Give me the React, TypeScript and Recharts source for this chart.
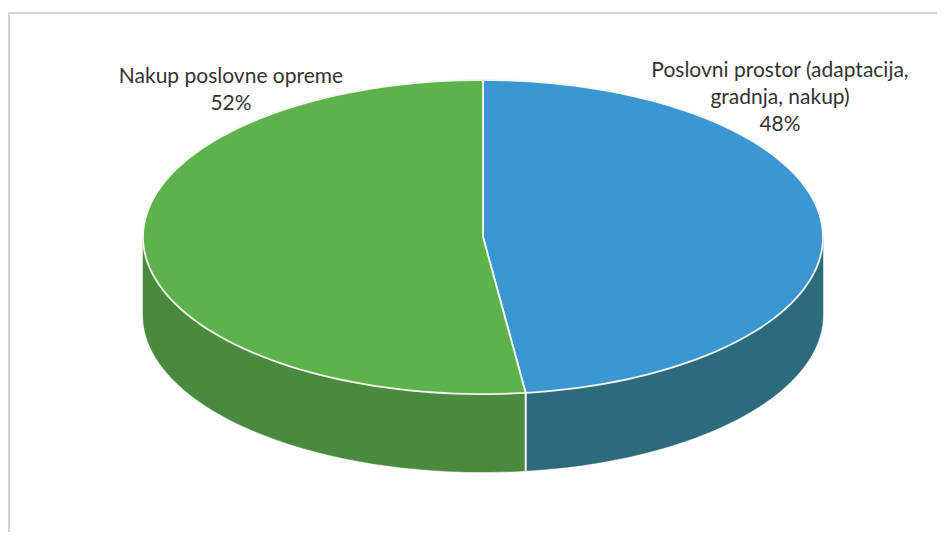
import { PieChart, Pie } from "recharts";

// slices, clockwise from 12 o'clock
const categories = ["Poslovni prostor (adaptacija, gradnja, nakup)", "Nakup poslovne opreme"];
const shares = [48, 52];
const labelLines = [["Poslovni prostor (adaptacija,", "gradnja, nakup)"], ["Nakup poslovne opreme"]];
const topColors = ["#3a97d2", "#5eb24c"];
const sideColors = ["#2e6a7e", "#4a8a3e"];

const data = categories.map((name, i) => ({ name, value: shares[i] }));

const TILT = 0.462; // vertical squash of the top face
const DEPTH = 78; // thickness of the disc
const LABEL_POS = [
  { dx: 297, dy: -160 },
  { dx: -252, dy: -154 },
];

const pt = (cx: number, cy: number, r: number, a: number, dy = 0) => {
  const t = (a * Math.PI) / 180;
  return [cx + r * Math.cos(t), cy - r * TILT * Math.sin(t) + dy];
};

const arc = (cx: number, cy: number, r: number, a1: number, a2: number, dy = 0) => {
  const n = Math.max(2, Math.ceil(Math.abs(a2 - a1) / 2));
  const out: number[][] = [];
  for (let i = 0; i <= n; i++) out.push(pt(cx, cy, r, a1 + ((a2 - a1) * i) / n, dy));
  return out;
};

const toPath = (pts: number[][]) =>
  pts.map((p, i) => `${i ? "L" : "M"}${p[0].toFixed(2)},${p[1].toFixed(2)}`).join(" ");

const isFront = (a: number) => Math.sin((a * Math.PI) / 180) <= 0.0001;

const Slice3D = (props: any) => {
  const { cx, cy, outerRadius: r, startAngle, endAngle, index } = props;
  const lo = Math.min(startAngle, endAngle);
  const hi = Math.max(startAngle, endAngle);
  const walls: number[][] = [];
  for (const k of [-360, 0, 360]) {
    const s = Math.max(lo, -180 + k);
    const e = Math.min(hi, k);
    if (e > s) walls.push([s, e]);
  }
  const top = [[cx, cy], ...arc(cx, cy, r, startAngle, endAngle)];
  return (
    <g>
      {walls.map(([s, e], i) => (
        <path
          key={"w" + i}
          d={toPath([...arc(cx, cy, r, s, e), ...arc(cx, cy, r, e, s, DEPTH)]) + " Z"}
          fill={sideColors[index]}
          stroke={sideColors[index]}
          strokeWidth={0.5}
        />
      ))}
      {[startAngle, endAngle].filter(isFront).map((a, i) => {
        const [x, y] = pt(cx, cy, r, a);
        if (Math.abs(Math.cos((a * Math.PI) / 180)) > 0.99) return null;
        return <line key={"d" + i} x1={x} y1={y} x2={x} y2={y + DEPTH} stroke="#f4f7ee" strokeWidth={1.8} />;
      })}
      <path d={toPath(top) + " Z"} fill={topColors[index]} stroke="#f4f7ee" strokeWidth={1.8} strokeLinejoin="round" />
    </g>
  );
};

const renderLabel = (props: any) => {
  const { cx, cy, index, percent } = props;
  const pos = LABEL_POS[index];
  const lines = [...labelLines[index], `${Math.round(percent * 100)}%`];
  return (
    <text
      x={cx + pos.dx}
      y={cy + pos.dy}
      textAnchor="middle"
      fill="#333333"
      fontSize={21}
      fontFamily="Lato, 'Open Sans', sans-serif"
    >
      {lines.map((l, i) => (
        <tspan key={i} x={cx + pos.dx} dy={i ? 27 : 0}>
          {l}
        </tspan>
      ))}
    </text>
  );
};

export default function App() {
  return (
    <div style={{ position: "relative", width: 937, height: 524 }}>
      <div
        style={{
          position: "absolute",
          left: 0,
          top: 4,
          width: 929,
          height: 518,
          borderLeft: "2px solid #d4d4d4",
          borderTop: "2px solid #d4d4d4",
          borderBottom: "1px solid #eeeeee",
        }}
      />
      <div style={{ position: "absolute", left: 0, top: 0 }}>
        <PieChart width={937} height={524}>
          <Pie
            data={data}
            dataKey="value"
            nameKey="name"
            cx={470}
            cy={224}
            outerRadius={340}
            startAngle={90}
            endAngle={-270}
            stroke="none"
            shape={Slice3D}
            inactiveShape={Slice3D}
            activeShape={Slice3D}
            label={renderLabel}
            labelLine={false}
            isAnimationActive={false}
          />
        </PieChart>
      </div>
    </div>
  );
}
